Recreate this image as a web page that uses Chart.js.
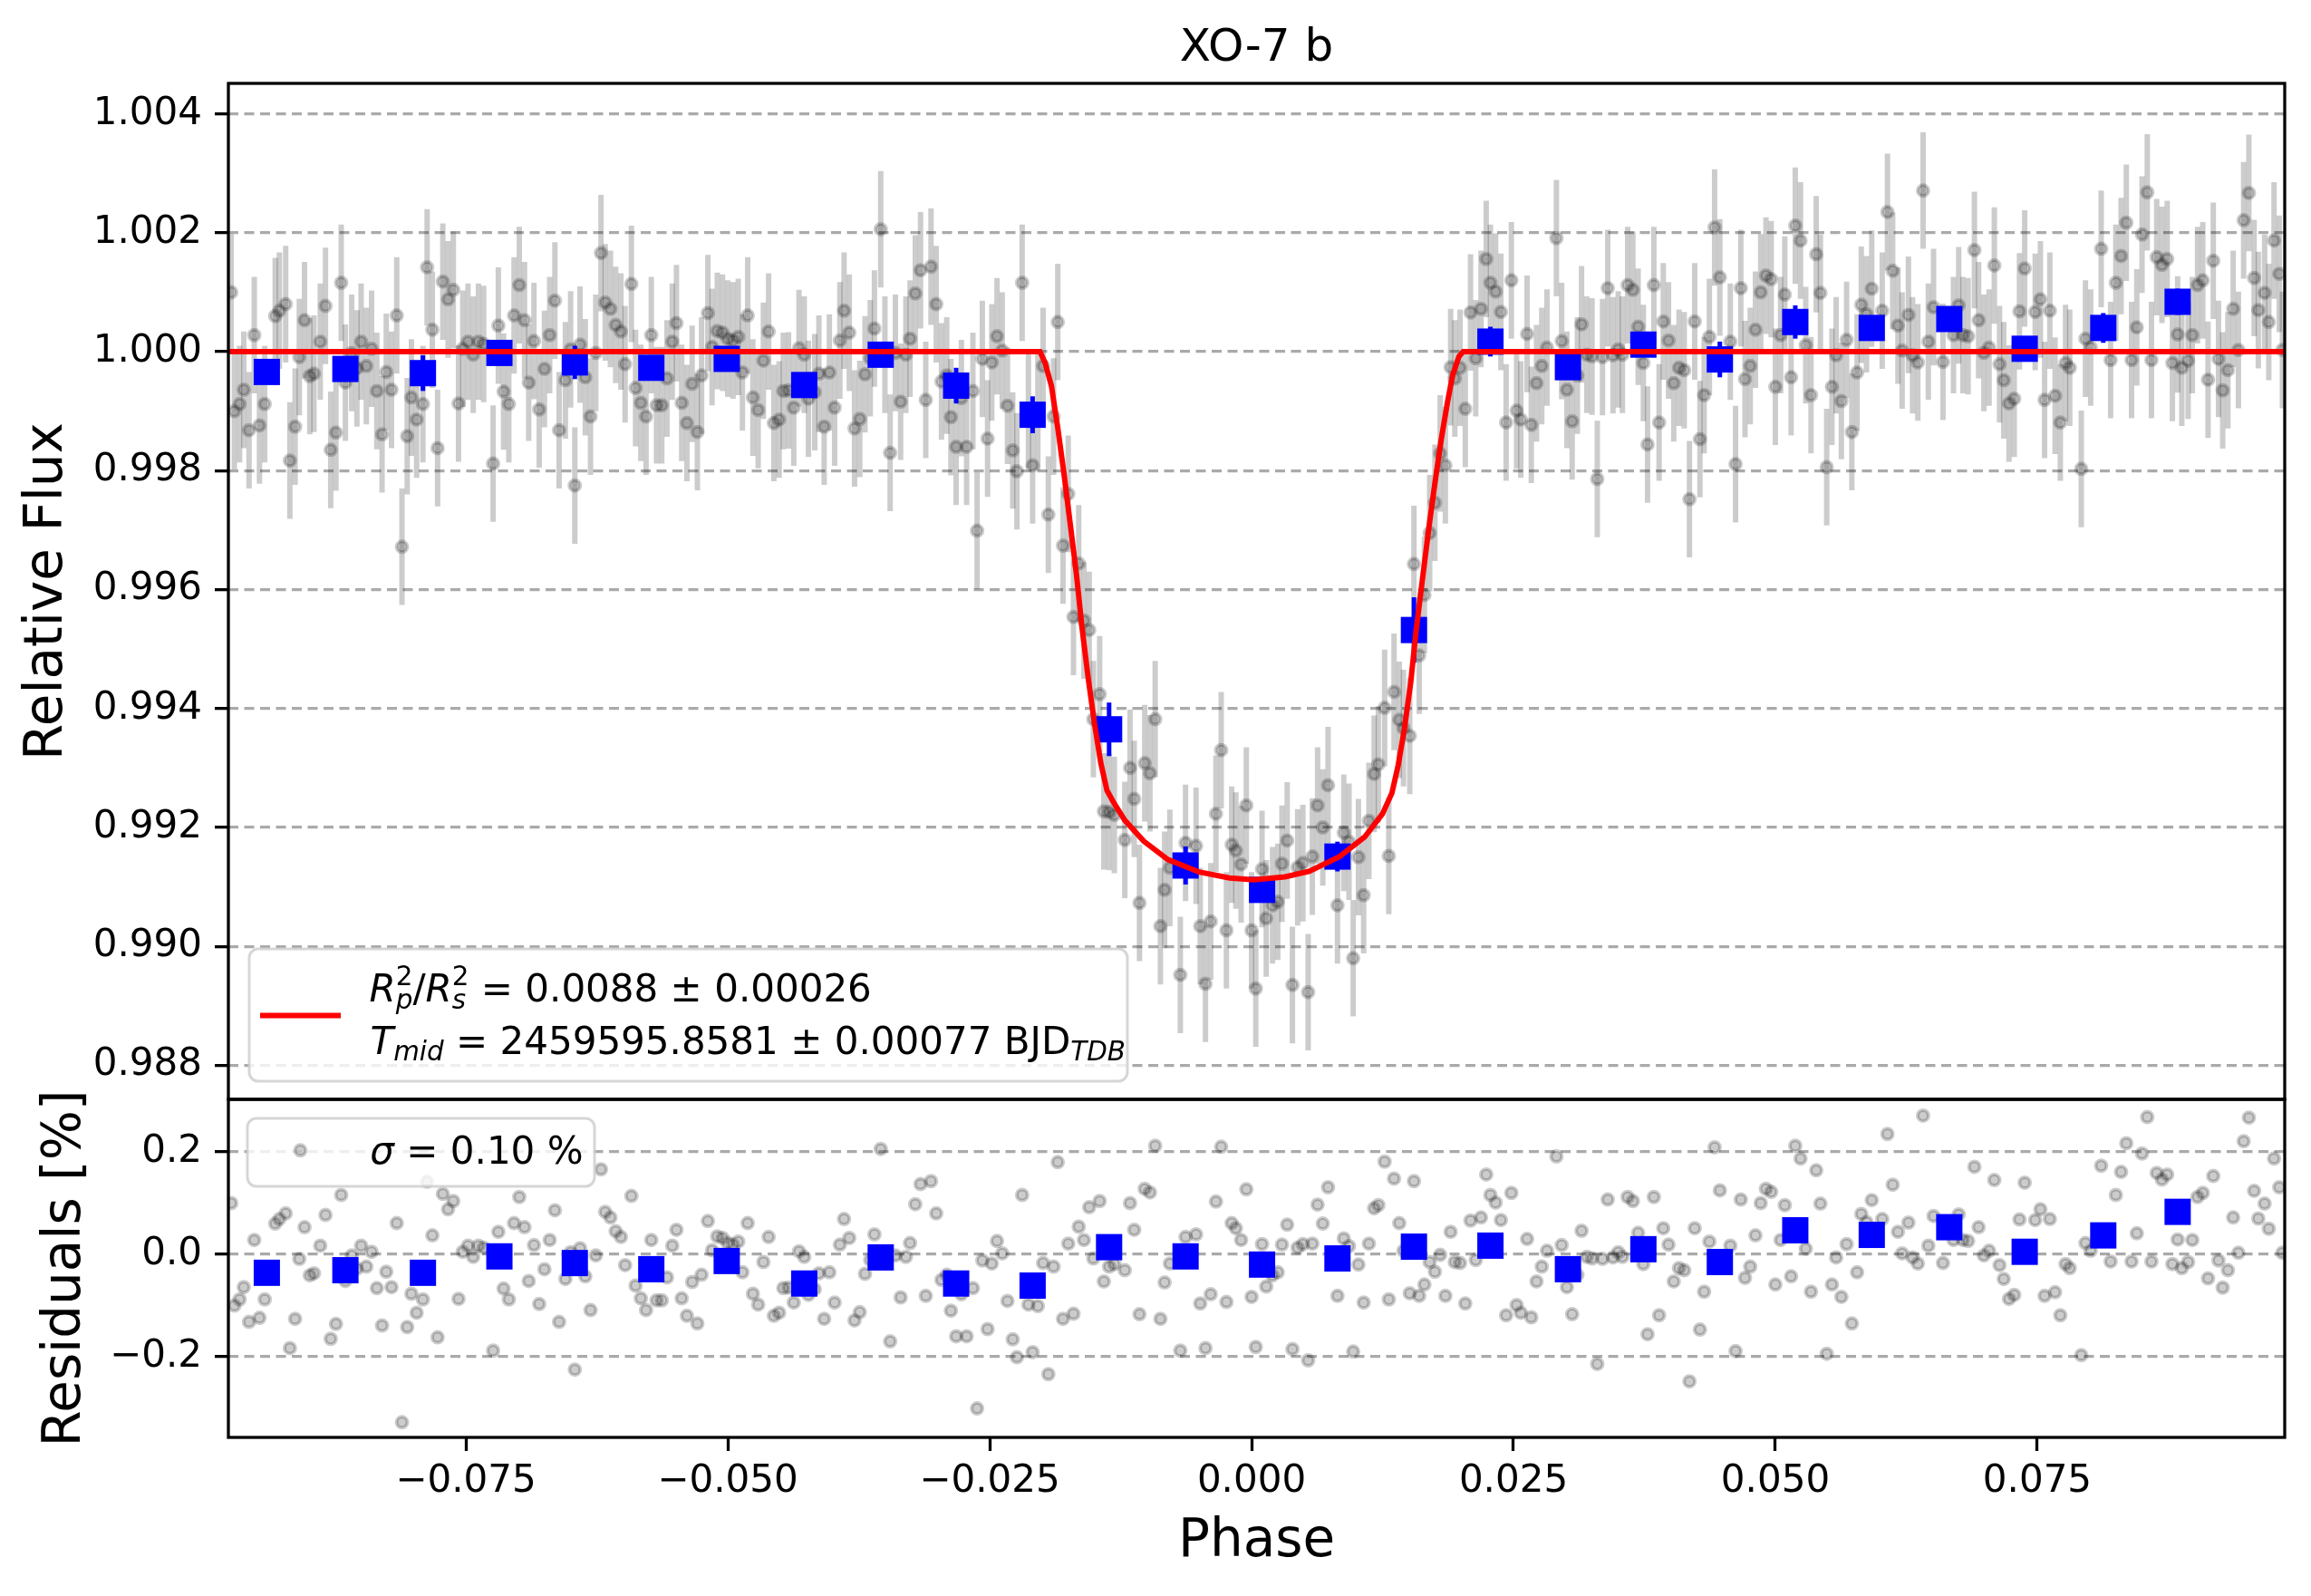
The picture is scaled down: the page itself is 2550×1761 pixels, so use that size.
<!DOCTYPE html>
<html>
<head>
<meta charset="utf-8">
<script src="https://cdn.jsdelivr.net/npm/chart.js@4.4.1/dist/chart.umd.min.js"></script>
<style>
  html, body { margin: 0; padding: 0; background: #fff; }
  #wrap { position: relative; width: 2550px; height: 1761px; }
  #wrap canvas { position: absolute; left: 0; top: 0; }
</style>
</head>
<body>
<div id="wrap">
  <canvas id="flux" width="2550" height="1761"></canvas>
  <canvas id="resid" width="2550" height="1761"></canvas>
</div>
<script>
// ---- data ----
const phase = [
  -0.0974, -0.0971, -0.0966, -0.0962, -0.0957, -0.0952, -0.0947, -0.0942, -0.0932, -0.0928,
  -0.0922, -0.0918, -0.0913, -0.0909, -0.0904, -0.0899, -0.0895, -0.0889, -0.0884, -0.0879,
  -0.0874, -0.0869, -0.0865, -0.0859, -0.0854, -0.0850, -0.0845, -0.0840, -0.0835, -0.0830,
  -0.0826, -0.0821, -0.0816, -0.0811, -0.0806, -0.0802, -0.0797, -0.0791, -0.0787, -0.0782,
  -0.0777, -0.0772, -0.0767, -0.0762, -0.0757, -0.0753, -0.0748, -0.0743, -0.0738, -0.0733,
  -0.0724, -0.0719, -0.0714, -0.0709, -0.0704, -0.0699, -0.0694, -0.0690, -0.0685, -0.0680,
  -0.0675, -0.0670, -0.0665, -0.0661, -0.0655, -0.0650, -0.0646, -0.0641, -0.0636, -0.0631,
  -0.0626, -0.0621, -0.0617, -0.0612, -0.0607, -0.0602, -0.0598, -0.0592, -0.0588, -0.0583,
  -0.0578, -0.0573, -0.0568, -0.0563, -0.0558, -0.0553, -0.0549, -0.0544, -0.0539, -0.0534,
  -0.0529, -0.0525, -0.0519, -0.0515, -0.0510, -0.0505, -0.0500, -0.0495, -0.0490, -0.0486,
  -0.0481, -0.0476, -0.0471, -0.0466, -0.0461, -0.0456, -0.0451, -0.0447, -0.0442, -0.0437,
  -0.0432, -0.0427, -0.0423, -0.0417, -0.0413, -0.0408, -0.0403, -0.0398, -0.0393, -0.0389,
  -0.0384, -0.0379, -0.0374, -0.0369, -0.0364, -0.0360, -0.0354, -0.0350, -0.0345, -0.0340,
  -0.0335, -0.0330, -0.0326, -0.0321, -0.0316, -0.0311, -0.0306, -0.0301, -0.0296, -0.0291,
  -0.0287, -0.0282, -0.0277, -0.0272, -0.0266, -0.0262, -0.0257, -0.0252, -0.0248, -0.0243,
  -0.0238, -0.0233, -0.0228, -0.0224, -0.0219, -0.0213, -0.0209, -0.0204, -0.0199, -0.0194,
  -0.0189, -0.0185, -0.0180, -0.0175, -0.0170, -0.0165, -0.0160, -0.0155, -0.0151, -0.0145,
  -0.0141, -0.0136, -0.0131, -0.0121, -0.0116, -0.0112, -0.0107, -0.0102, -0.0097, -0.0092,
  -0.0087, -0.0083, -0.0078, -0.0068, -0.0063, -0.0053, -0.0049, -0.0044, -0.0039, -0.0034,
  -0.0029, -0.0024, -0.0019, -0.0015, -0.0010, -0.0005, 0.0000, 0.0004, 0.0010, 0.0014,
  0.0020, 0.0025, 0.0029, 0.0034, 0.0039, 0.0044, 0.0049, 0.0054, 0.0058, 0.0063,
  0.0068, 0.0073, 0.0082, 0.0088, 0.0093, 0.0097, 0.0102, 0.0107, 0.0112, 0.0117,
  0.0121, 0.0127, 0.0131, 0.0136, 0.0141, 0.0145, 0.0151, 0.0155, 0.0160, 0.0165,
  0.0170, 0.0175, 0.0180, 0.0185, 0.0190, 0.0194, 0.0199, 0.0204, 0.0209, 0.0214,
  0.0219, 0.0224, 0.0228, 0.0233, 0.0238, 0.0243, 0.0248, 0.0253, 0.0257, 0.0263,
  0.0267, 0.0272, 0.0277, 0.0282, 0.0291, 0.0296, 0.0301, 0.0306, 0.0311, 0.0315,
  0.0320, 0.0325, 0.0330, 0.0335, 0.0340, 0.0345, 0.0350, 0.0354, 0.0359, 0.0364,
  0.0369, 0.0374, 0.0378, 0.0384, 0.0389, 0.0393, 0.0398, 0.0403, 0.0408, 0.0413,
  0.0418, 0.0423, 0.0428, 0.0432, 0.0437, 0.0442, 0.0447, 0.0457, 0.0462, 0.0467,
  0.0471, 0.0476, 0.0481, 0.0486, 0.0491, 0.0496, 0.0500, 0.0505, 0.0509, 0.0515,
  0.0519, 0.0524, 0.0529, 0.0534, 0.0539, 0.0543, 0.0549, 0.0554, 0.0558, 0.0563,
  0.0568, 0.0573, 0.0578, 0.0582, 0.0587, 0.0592, 0.0602, 0.0607, 0.0612, 0.0617,
  0.0621, 0.0627, 0.0631, 0.0636, 0.0641, 0.0646, 0.0651, 0.0660, 0.0670, 0.0675,
  0.0679, 0.0684, 0.0690, 0.0694, 0.0699, 0.0704, 0.0709, 0.0714, 0.0718, 0.0723,
  0.0728, 0.0733, 0.0738, 0.0748, 0.0753, 0.0757, 0.0762, 0.0767, 0.0772, 0.0777,
  0.0781, 0.0792, 0.0796, 0.0801, 0.0811, 0.0820, 0.0825, 0.0830, 0.0835, 0.0840,
  0.0845, 0.0850, 0.0855, 0.0859, 0.0864, 0.0869, 0.0874, 0.0879, 0.0884, 0.0888,
  0.0894, 0.0898, 0.0903, 0.0908, 0.0913, 0.0918, 0.0923, 0.0927, 0.0932, 0.0937,
  0.0942, 0.0947, 0.0952, 0.0957, 0.0961, 0.0967, 0.0971, 0.0976, 0.0981, 0.0984
];
const flux = [
  1.00100, 0.99900, 0.99912, 0.99936, 0.99868, 1.00028, 0.99876, 0.99912, 1.00060, 1.00069,
  1.00080, 0.99817, 0.99874, 0.99991, 1.00053, 0.99959, 0.99963, 1.00017, 1.00077, 0.99835,
  0.99864, 1.00116, 0.99948, 0.99998, 0.99972, 1.00017, 0.99976, 1.00005, 0.99934, 0.99861,
  0.99966, 0.99936, 1.00061, 0.99672, 0.99858, 0.99923, 0.99886, 0.99912, 1.00142, 1.00037,
  0.99838, 1.00118, 1.00088, 1.00104, 0.99913, 1.00005, 1.00017, 0.99995, 1.00017, 1.00013,
  0.99812, 1.00044, 0.99933, 0.99912, 1.00061, 1.00112, 1.00053, 0.99948, 1.00018, 0.99903,
  0.99971, 1.00028, 1.00086, 0.99868, 0.99952, 1.00004, 0.99775, 1.00012, 0.99957, 0.99891,
  0.99998, 1.00166, 1.00083, 1.00072, 1.00045, 1.00034, 0.99979, 1.00114, 0.99939, 0.99914,
  0.99891, 1.00028, 0.99910, 0.99910, 0.99955, 1.00017, 1.00048, 0.99914, 0.99880, 0.99946,
  0.99865, 0.99960, 1.00065, 1.00008, 1.00035, 1.00032, 1.00022, 1.00019, 1.00025, 0.99965,
  1.00061, 0.99923, 0.99902, 0.99985, 1.00034, 0.99880, 0.99886, 0.99934, 0.99935, 0.99906,
  1.00006, 0.99995, 0.99921, 0.99932, 0.99963, 0.99874, 0.99965, 0.99906, 1.00019, 1.00069,
  1.00032, 0.99871, 0.99887, 0.99962, 0.99989, 1.00039, 1.00206, 0.99995, 0.99830, 0.99998,
  0.99916, 0.99995, 1.00022, 1.00098, 1.00137, 0.99919, 1.00143, 1.00080, 0.99950, 0.99960,
  0.99890, 0.99840, 0.99922, 0.99840, 0.99934, 0.99699, 0.99988, 0.99854, 0.99982, 1.00026,
  1.00002, 0.99909, 0.99834, 0.99799, 1.00116, 0.99902, 0.99809, 0.99899, 0.99976, 0.99726,
  0.99891, 1.00050, 0.99674, 0.99761, 0.99554, 0.99644, 0.99548, 0.99532, 0.99382, 0.99424,
  0.99227, 0.99226, 0.99221, 0.99179, 0.99300, 0.99248, 0.99073, 0.99308, 0.99291, 0.99382,
  0.99034, 0.99095, 0.99132, 0.98952, 0.99174, 0.99169, 0.99034, 0.98937, 0.99042, 0.99223,
  0.99330, 0.99027, 0.99171, 0.99161, 0.99138, 0.99237, 0.99027, 0.98929, 0.99130, 0.99047,
  0.99069, 0.99075, 0.99139, 0.99178, 0.98935, 0.99133, 0.99140, 0.98923, 0.99151, 0.99237,
  0.99200, 0.99271, 0.99069, 0.99191, 0.99176, 0.98980, 0.99150, 0.99086, 0.99211, 0.99290,
  0.99306, 0.99401, 0.99152, 0.99428, 0.99381, 0.99367, 0.99354, 0.99643, 0.99489, 0.99591,
  0.99695, 0.99746, 0.99829, 0.99809, 0.99974, 0.99955, 0.99973, 0.99904, 1.00066, 0.99989,
  1.00072, 1.00156, 1.00116, 1.00101, 1.00067, 0.99881, 1.00120, 0.99901, 0.99886, 1.00030,
  0.99877, 0.99947, 0.99976, 1.00007, 1.00191, 1.00018, 0.99936, 0.99883, 0.99960, 1.00046,
  0.99995, 0.99992, 0.99786, 0.99991, 1.00107, 0.99994, 1.00004, 0.99995, 1.00112, 1.00104,
  1.00042, 0.99981, 0.99844, 1.00112, 0.99881, 1.00051, 1.00019, 0.99947, 0.99973, 0.99969,
  0.99752, 1.00051, 0.99853, 0.99927, 1.00025, 1.00209, 1.00125, 1.00017, 0.99811, 1.00107,
  0.99954, 0.99976, 1.00037, 1.00100, 1.00128, 1.00122, 0.99941, 1.00028, 1.00096, 0.99957,
  1.00212, 1.00187, 1.00011, 0.99927, 1.00164, 1.00099, 0.99806, 0.99941, 0.99994, 0.99917,
  1.00020, 0.99865, 0.99965, 1.00079, 1.00063, 1.00106, 1.00069, 1.00235, 1.00136, 1.00044,
  1.00002, 1.00062, 0.99994, 0.99982, 1.00271, 1.00017, 1.00075, 0.99983, 1.00028, 1.00078,
  1.00028, 1.00026, 1.00171, 1.00053, 0.99998, 1.00007, 1.00145, 0.99979, 0.99952, 0.99913,
  0.99921, 1.00068, 1.00140, 1.00067, 1.00088, 0.99919, 1.00069, 0.99926, 0.99881, 0.99981,
  0.99973, 0.99803, 1.00022, 1.00007, 1.00173, 0.99986, 1.00116, 1.00161, 1.00217, 0.99986,
  1.00041, 1.00197, 1.00268, 0.99986, 1.00159, 1.00146, 1.00156, 0.99981, 1.00029, 0.99973,
  0.99985, 1.00028, 1.00112, 1.00120, 0.99953, 1.00153, 0.99988, 0.99935, 0.99969, 1.00072,
  1.00003, 1.00221, 1.00267, 1.00124, 1.00070, 1.00099, 1.00050, 1.00187, 1.00131, 1.00003
];
// residuals in percent
const resid = [
  0.100, -0.100, -0.088, -0.064, -0.132, 0.028, -0.124, -0.088, 0.060, 0.069,
  0.080, -0.183, -0.126, -0.009, 0.053, -0.041, -0.037, 0.017, 0.077, -0.165,
  -0.136, 0.116, -0.052, -0.002, -0.028, 0.017, -0.024, 0.005, -0.066, -0.139,
  -0.034, -0.064, 0.061, -0.328, -0.142, -0.077, -0.114, -0.088, 0.142, 0.037,
  -0.162, 0.118, 0.088, 0.104, -0.087, 0.005, 0.017, -0.005, 0.017, 0.013,
  -0.188, 0.044, -0.067, -0.088, 0.061, 0.112, 0.053, -0.052, 0.018, -0.097,
  -0.029, 0.028, 0.086, -0.132, -0.048, 0.004, -0.225, 0.012, -0.043, -0.109,
  -0.002, 0.166, 0.083, 0.072, 0.045, 0.034, -0.021, 0.114, -0.061, -0.086,
  -0.109, 0.028, -0.090, -0.090, -0.045, 0.017, 0.048, -0.086, -0.120, -0.054,
  -0.135, -0.040, 0.065, 0.008, 0.035, 0.032, 0.022, 0.019, 0.025, -0.035,
  0.061, -0.077, -0.098, -0.015, 0.034, -0.120, -0.114, -0.066, -0.065, -0.094,
  0.006, -0.005, -0.079, -0.068, -0.037, -0.126, -0.035, -0.094, 0.019, 0.069,
  0.032, -0.129, -0.113, -0.038, -0.011, 0.039, 0.206, -0.005, -0.170, -0.002,
  -0.084, -0.005, 0.022, 0.098, 0.137, -0.081, 0.143, 0.080, -0.050, -0.040,
  -0.110, -0.160, -0.078, -0.160, -0.066, -0.301, -0.012, -0.146, -0.018, 0.026,
  0.002, -0.091, -0.166, -0.201, 0.116, -0.098, -0.191, -0.101, -0.017, -0.234,
  -0.024, 0.180, -0.126, 0.021, -0.116, 0.054, 0.028, 0.092, -0.008, 0.104,
  -0.053, -0.024, -0.019, -0.031, 0.100, 0.048, -0.117, 0.128, 0.121, 0.212,
  -0.126, -0.055, -0.018, -0.188, 0.034, 0.039, -0.096, -0.183, -0.078, 0.103,
  0.210, -0.093, 0.061, 0.051, 0.028, 0.127, -0.083, -0.181, 0.020, -0.063,
  -0.041, -0.035, 0.019, 0.058, -0.185, 0.013, 0.020, -0.207, 0.021, 0.097,
  0.060, 0.131, -0.081, 0.031, 0.016, -0.190, -0.020, -0.094, 0.021, 0.090,
  0.096, 0.181, -0.088, 0.148, 0.061, 0.007, -0.076, 0.143, -0.081, -0.059,
  -0.015, -0.034, -0.001, -0.081, 0.044, -0.015, -0.017, -0.096, 0.066, -0.011,
  0.072, 0.156, 0.116, 0.101, 0.067, -0.119, 0.120, -0.099, -0.114, 0.030,
  -0.123, -0.053, -0.024, 0.007, 0.191, 0.018, -0.064, -0.117, -0.040, 0.046,
  -0.005, -0.008, -0.214, -0.009, 0.107, -0.006, 0.004, -0.005, 0.112, 0.104,
  0.042, -0.019, -0.156, 0.112, -0.119, 0.051, 0.019, -0.053, -0.027, -0.031,
  -0.248, 0.051, -0.147, -0.073, 0.025, 0.209, 0.125, 0.017, -0.189, 0.107,
  -0.046, -0.024, 0.037, 0.100, 0.128, 0.122, -0.059, 0.028, 0.096, -0.043,
  0.212, 0.187, 0.011, -0.073, 0.164, 0.099, -0.194, -0.059, -0.006, -0.083,
  0.020, -0.135, -0.035, 0.079, 0.063, 0.106, 0.069, 0.235, 0.136, 0.044,
  0.002, 0.062, -0.006, -0.018, 0.271, 0.017, 0.075, -0.017, 0.028, 0.078,
  0.028, 0.026, 0.171, 0.053, -0.002, 0.007, 0.145, -0.021, -0.048, -0.087,
  -0.079, 0.068, 0.140, 0.067, 0.088, -0.081, 0.069, -0.074, -0.119, -0.019,
  -0.027, -0.197, 0.022, 0.007, 0.173, -0.014, 0.116, 0.161, 0.217, -0.014,
  0.041, 0.197, 0.268, -0.014, 0.159, 0.146, 0.156, -0.019, 0.029, -0.027,
  -0.015, 0.028, 0.112, 0.120, -0.047, 0.153, -0.012, -0.065, -0.031, 0.072,
  0.003, 0.221, 0.267, 0.124, 0.070, 0.099, 0.050, 0.187, 0.131, 0.003
];
const pointErr = 0.00098;

// binned points (blue squares)
const binPhase = [-0.0940, -0.0865, -0.0791, -0.0718, -0.0646, -0.0573, -0.0501, -0.0427, -0.0354,
  -0.0282, -0.0209, -0.0136, -0.0063, 0.0010, 0.0082, 0.0155, 0.0228, 0.0302, 0.0374, 0.0447,
  0.0519, 0.0592, 0.0666, 0.0738, 0.0813, 0.0884];
const binFlux = [0.99966, 0.99971, 0.99964, 0.99998, 0.99982, 0.99973, 0.99988, 0.99944, 0.99995,
  0.99943, 0.99894, 0.99365, 0.99136, 0.99095, 0.99151, 0.99532, 1.00017, 0.99974, 1.00012, 0.99987,
  1.00050, 1.00040, 1.00055, 1.00005, 1.00040, 1.00084];
const binErr = [0.0002, 0.0002, 0.0003, 0.0002, 0.00028, 0.0002, 0.0002, 0.0002, 0.0002,
  0.0003, 0.00031, 0.00045, 0.00032, 0.0002, 0.00025, 0.00055, 0.00025, 0.0002, 0.0002, 0.0003,
  0.00028, 0.0002, 0.0002, 0.0002, 0.00025, 0.00022];
const binResid = [-0.036, -0.031, -0.036, -0.004, -0.017, -0.029, -0.013, -0.057, -0.006,
  -0.057, -0.061, 0.014, -0.004, -0.020, -0.008, 0.015, 0.017, -0.029, 0.010, -0.015,
  0.047, 0.038, 0.053, 0.005, 0.037, 0.083];

// transit model (red curve)
const modelPhase = [-0.0977, -0.0202, -0.0197, -0.0191, -0.0185, -0.0179, -0.0173, -0.0167, -0.0162,
  -0.0156, -0.0150, -0.0144, -0.0138, -0.0132, -0.0121, -0.0103, -0.0080, -0.0050, -0.0021, 0.0002,
  0.0032, 0.0055, 0.0084, 0.0108, 0.0125, 0.0134, 0.0140, 0.0146, 0.0152, 0.0157, 0.0163, 0.0169,
  0.0175, 0.0181, 0.0187, 0.0192, 0.0198, 0.0202, 0.0986];
const modelFlux = [1.0, 1.0, 0.99981, 0.99942, 0.99872, 0.99794, 0.99709, 0.99623, 0.99538,
  0.99452, 0.99375, 0.99309, 0.99262, 0.99243, 0.99212, 0.99177, 0.99146, 0.99125, 0.99115, 0.99112,
  0.99117, 0.99126, 0.99151, 0.99184, 0.99223, 0.99258, 0.99305, 0.99367, 0.99445, 0.99530, 0.99616, 0.99701,
  0.99779, 0.99852, 0.99915, 0.99961, 0.99992, 1.0, 1.0];

// ticks
const xTicks = [-0.075, -0.05, -0.025, 0, 0.025, 0.05, 0.075];
const xTickLabels = ['\u22120.075', '\u22120.050', '\u22120.025', '0.000', '0.025', '0.050', '0.075'];
const fluxTicks = [0.988, 0.990, 0.992, 0.994, 0.996, 0.998, 1.000, 1.002, 1.004];
const fluxTickLabels = ['0.988', '0.990', '0.992', '0.994', '0.996', '0.998', '1.000', '1.002', '1.004'];
const residTicks = [-0.2, 0, 0.2];
const residTickLabels = ['\u22120.2', '0.0', '0.2'];

const titleText = 'XO-7 b';
const depthText = ' = 0.0088 \u00b1 0.00026';
const tmidText = ' = 2459595.8581 \u00b1 0.00077 BJD';
const sigmaText = ' = 0.10 %';

// ---- layout (pixels) ----
const PLOT_LEFT = 252, PLOT_RIGHT = 2521, FLUX_TOP = 92, SPLIT = 1213, RESID_BOTTOM = 1586;
const W = 2550, H = 1761;
const X_MIN = -0.09767, X_MAX = 0.09862;
const FONT = '"DejaVu Sans", "Liberation Sans", sans-serif';
const tickFont = { family: FONT, size: 42 };
const labelFont = { family: FONT, size: 58 };
const GRID = '#aaaaaa';

const xy = (xs, ys) => xs.map((x, i) => ({ x, y: ys[i] }));

function yScale(min, max, ticks, labels, title, titlePad) {
  return {
    type: 'linear', position: 'left', min, max,
    afterBuildTicks: s => { s.ticks = ticks.map(v => ({ value: v })); },
    afterFit: s => { s.width = PLOT_LEFT; },
    ticks: { callback: (v, i) => labels[i], font: tickFont, color: '#000', padding: 14, autoSkip: false },
    grid: { color: GRID, lineWidth: 3.3, tickColor: '#000', tickLength: 15, tickWidth: 3.3, tickBorderDash: [] },
    border: { display: false, dash: [11, 6.5] },
    title: { display: true, text: title, font: labelFont, color: '#000', padding: { top: titlePad, bottom: 0 } }
  };
}

const errorBars = {
  id: 'errorBars',
  beforeDatasetDraw(chart, args) {
    const ds = chart.data.datasets[args.index];
    if (!ds.errors) return;
    const { ctx, chartArea: a, scales: { x, y } } = chart;
    ctx.save();
    ctx.beginPath();
    ctx.rect(a.left, a.top, a.right - a.left, a.bottom - a.top);
    ctx.clip();
    ctx.strokeStyle = ds.errorColor;
    ctx.lineWidth = ds.errorWidth;
    ds.data.forEach((p, i) => {
      const px = x.getPixelForValue(p.x);
      ctx.beginPath();
      ctx.moveTo(px, y.getPixelForValue(p.y - ds.errors[i]));
      ctx.lineTo(px, y.getPixelForValue(p.y + ds.errors[i]));
      ctx.stroke();
    });
    ctx.restore();
  }
};

const frame = {
  id: 'frame',
  afterDatasetsDraw(chart) {
    const { ctx, chartArea: a } = chart;
    ctx.save();
    ctx.strokeStyle = '#000';
    ctx.lineWidth = 3.3;
    ctx.strokeRect(a.left, a.top, a.right - a.left, a.bottom - a.top);
    ctx.restore();
  }
};

// mathtext-like runs: it = italic, small = sub/superscript size, dy = baseline shift, stack = same x as previous run
function drawMath(ctx, x, y, parts, size) {
  let cx = x, prevX = x, prevW = 0;
  ctx.textAlign = 'left';
  ctx.textBaseline = 'alphabetic';
  for (const p of parts) {
    const s = size * (p.small ? 0.7 : 1);
    ctx.font = (p.it ? 'italic ' : '') + s + 'px ' + FONT;
    const w = ctx.measureText(p.t).width;
    const px = p.stack ? prevX : cx;
    ctx.fillText(p.t, px, y + (p.dy || 0));
    if (p.stack) {
      cx = prevX + Math.max(prevW, w);
    } else {
      prevX = cx; prevW = w; cx += w;
    }
  }
}

function legendBox(ctx, x0, y0, x1, y1) {
  ctx.beginPath();
  ctx.roundRect(x0, y0, x1 - x0, y1 - y0, 10);
  ctx.fillStyle = 'rgba(255,255,255,0.8)';
  ctx.fill();
  ctx.strokeStyle = 'rgba(204,204,204,0.8)';
  ctx.lineWidth = 3;
  ctx.stroke();
}

const fluxDecor = {
  id: 'fluxDecor',
  afterDraw(chart) {
    const ctx = chart.ctx;
    ctx.save();
    ctx.fillStyle = '#000';
    ctx.font = '50px ' + FONT;
    ctx.textAlign = 'center';
    ctx.textBaseline = 'alphabetic';
    ctx.fillText(titleText, (PLOT_LEFT + PLOT_RIGHT) / 2, 67);

    legendBox(ctx, 275, 1047, 1244, 1193);
    ctx.strokeStyle = '#ff0000';
    ctx.lineWidth = 6;
    ctx.beginPath();
    ctx.moveTo(287, 1120.5);
    ctx.lineTo(376, 1120.5);
    ctx.stroke();
    ctx.fillStyle = '#000';
    drawMath(ctx, 407.5, 1105, [
      { t: 'R', it: true },
      { t: 'p', it: true, small: true, dy: 8 },
      { t: '2', small: true, dy: -18, stack: true },
      { t: '/' },
      { t: 'R', it: true },
      { t: 's', it: true, small: true, dy: 8 },
      { t: '2', small: true, dy: -18, stack: true },
      { t: depthText }
    ], 42);
    drawMath(ctx, 408.5, 1163, [
      { t: 'T', it: true },
      { t: 'mid', it: true, small: true, dy: 7 },
      { t: tmidText },
      { t: 'TDB', it: true, small: true, dy: 7 }
    ], 42);
    ctx.restore();
  }
};

const residDecor = {
  id: 'residDecor',
  afterDraw(chart) {
    const ctx = chart.ctx;
    ctx.save();
    legendBox(ctx, 273, 1234, 656, 1309);
    ctx.beginPath();
    ctx.arc(331.4, 1269.3, 6, 0, Math.PI * 2);
    ctx.fillStyle = 'rgba(0,0,0,0.2)';
    ctx.fill();
    ctx.strokeStyle = 'rgba(0,0,0,0.2)';
    ctx.lineWidth = 4;
    ctx.stroke();
    ctx.fillStyle = '#000';
    drawMath(ctx, 408.3, 1284, [{ t: '\u03c3', it: true }, { t: sigmaText }], 42);
    ctx.restore();
  }
};

const common = {
  responsive: false,
  devicePixelRatio: 1,
  animation: false,
  events: [],
  plugins: { legend: { display: false }, tooltip: { enabled: false } }
};

const grayPoint = {
  pointRadius: 6,
  pointBackgroundColor: 'rgba(0,0,0,0.2)',
  pointBorderColor: 'rgba(0,0,0,0.2)',
  pointBorderWidth: 4
};
const bluePoint = {
  pointStyle: 'rect',
  pointRadius: 20.5,
  pointBackgroundColor: '#0000ff',
  pointBorderWidth: 0
};

new Chart(document.getElementById('flux'), {
  type: 'scatter',
  data: {
    datasets: [
      { data: xy(modelPhase, modelFlux), showLine: true, borderColor: '#ff0000', borderWidth: 6,
        pointRadius: 0, tension: 0, order: 0 },
      Object.assign({ data: xy(binPhase, binFlux), errors: binErr, errorColor: '#0000ff', errorWidth: 5, order: 1 }, bluePoint),
      Object.assign({ data: xy(phase, flux), errors: phase.map(() => pointErr),
        errorColor: 'rgba(0,0,0,0.2)', errorWidth: 6, order: 2 }, grayPoint)
    ]
  },
  options: Object.assign({}, common, {
    layout: { padding: { top: FLUX_TOP, bottom: H - SPLIT, left: 0, right: W - PLOT_RIGHT } },
    scales: {
      x: { type: 'linear', min: X_MIN, max: X_MAX, display: false },
      y: yScale(0.987427, 1.004513, fluxTicks, fluxTickLabels, 'Relative Flux', 18)
    }
  }),
  plugins: [errorBars, frame, fluxDecor]
});

new Chart(document.getElementById('resid'), {
  type: 'scatter',
  data: {
    datasets: [
      Object.assign({ data: xy(binPhase, binResid), order: 1 }, bluePoint),
      Object.assign({ data: xy(phase, resid), order: 2 }, grayPoint)
    ]
  },
  options: Object.assign({}, common, {
    layout: { padding: { top: SPLIT, bottom: 0, left: 0, right: W - PLOT_RIGHT } },
    scales: {
      x: {
        type: 'linear', position: 'bottom', min: X_MIN, max: X_MAX,
        afterBuildTicks: s => { s.ticks = xTicks.map(v => ({ value: v })); },
        afterFit: s => { s.height = H - RESID_BOTTOM; },
        ticks: { callback: (v, i) => xTickLabels[i], font: tickFont, color: '#000', padding: 9,
          autoSkip: false, maxRotation: 0 },
        grid: { drawOnChartArea: false, tickColor: '#000', tickLength: 15, tickWidth: 3.3, tickBorderDash: [] },
        border: { display: false },
        title: { display: true, text: 'Phase', font: labelFont, color: '#000', padding: { top: 0, bottom: 24 } }
      },
      y: yScale(-0.3575, 0.3027, residTicks, residTickLabels, 'Residuals [%]', 38)
    }
  }),
  plugins: [errorBars, frame, residDecor]
});
</script>
</body>
</html>
